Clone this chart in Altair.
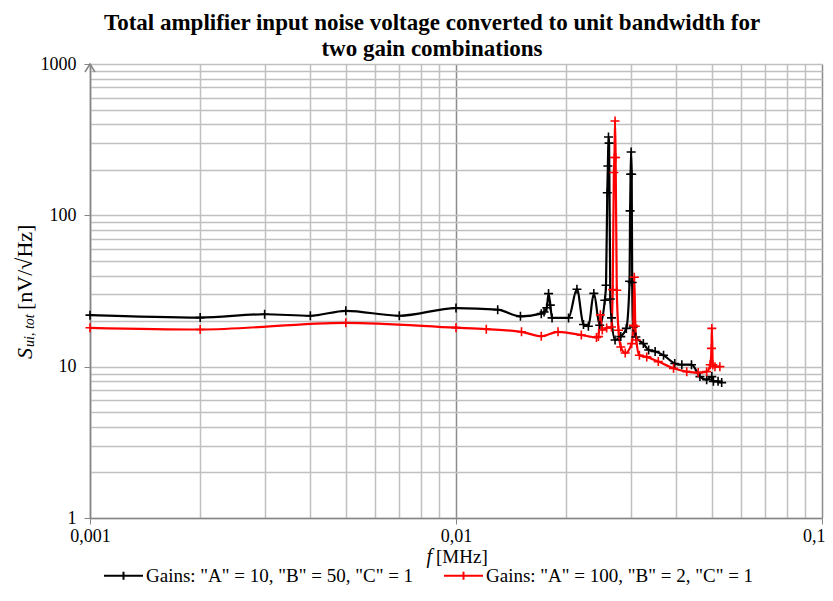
import altair as alt
import pandas as pd

black_label = 'Gains: "A" = 10, "B" = 50, "C" = 1'
red_label = 'Gains: "A" = 100, "B" = 2, "C" = 1'

black_f = [0.001, 0.002, 0.003, 0.004, 0.005, 0.007, 0.01, 0.013, 0.015,
           0.0171, 0.0174, 0.0177, 0.0179, 0.0181, 0.0183, 0.0203, 0.0214,
           0.0223, 0.023, 0.0238, 0.0247, 0.0255, 0.0257, 0.0259, 0.026,
           0.0261, 0.0262, 0.0264, 0.0266, 0.0272, 0.0282, 0.0292, 0.0298,
           0.0299, 0.03, 0.0301, 0.0302, 0.0303, 0.0305, 0.031, 0.0325,
           0.0336, 0.035, 0.0369, 0.0396, 0.0414, 0.044, 0.0464, 0.0484,
           0.05, 0.0505, 0.052, 0.0532]
black_v = [21.9, 21.1, 22.2, 21.7, 23.4, 21.7, 24.4, 23.8, 21.5,
           22.4, 23.0, 24.5, 30.4, 25.5, 21.0, 21.0, 32.5,
           19.0, 18.5, 30.5, 18.8, 27.5, 34.5, 141, 212,
           329, 300, 28, 21, 15.0, 15.8, 17.9, 36.7,
           107, 187, 262, 187, 36, 18.3, 15.7, 14.2,
           12.9, 12.6, 11.9, 10.5, 10.3, 10.3, 8.6, 8.2,
           8.6, 8.0, 8.0, 7.85]

red_f = [0.001, 0.002, 0.005, 0.01, 0.0121, 0.0151, 0.0171, 0.019, 0.022,
         0.0242, 0.0245, 0.0248, 0.0251, 0.0258, 0.0266, 0.0268, 0.027,
         0.0271, 0.0272, 0.0273, 0.0275, 0.0278, 0.0282, 0.029, 0.0302,
         0.0305, 0.0307, 0.0309, 0.0311, 0.0317, 0.0332, 0.0357, 0.0393,
         0.0427, 0.0459, 0.0484, 0.0495, 0.0499, 0.05, 0.0503, 0.051, 0.0526]
red_v = [18.06, 17.6, 19.5, 18.1, 17.7, 17.0, 15.9, 17.0, 16.2,
         15.6, 15.8, 22.0, 17.5, 18.0, 18.3, 32.3, 192,
         241, 420, 241, 32, 17.4, 13.5, 12.3, 14.2,
         18.8, 39, 18.5, 15.0, 11.9, 11.6, 10.8, 9.75,
         9.27, 9.14, 9.27, 10.3, 13.2, 17.9, 10.3, 10.0, 10.0]

x_ticks = [round(i * 10 ** k, 6) for k in (-3, -2) for i in range(1, 10)] + [0.1]
y_ticks = [i * 10 ** k for k in (0, 1, 2) for i in range(1, 10)] + [1000]

df = pd.concat([
    pd.DataFrame({"f": black_f, "v": black_v, "series": black_label}),
    pd.DataFrame({"f": red_f, "v": red_v, "series": red_label}),
], ignore_index=True)

FONT = "Liberation Serif"
decade = "abs(log(datum.value)/LN10 - round(log(datum.value)/LN10)) < 0.001"
is_last = "datum.value > 0.05"

cscale = alt.Scale(domain=[black_label, red_label], range=["#000000", "#ff0000"])
color = alt.Color(
    "series:N", scale=cscale,
    legend=alt.Legend(
        orient="none", legendX=13, legendY=491, direction="horizontal", title=None,
        symbolType="M-1,0L1,0M0,-0.2L0,0.2", symbolSize=1521, symbolStrokeWidth=2,
        labelFont=FONT, labelFontSize=19, labelColor="black", labelLimit=500,
        labelOffset=2, columnPadding=26, padding=0,
    ),
)

x_enc = alt.X(
    "f:Q",
    scale=alt.Scale(type="log", domain=[0.001, 0.1], nice=False),
    axis=alt.Axis(
        values=x_ticks, title=None,
        labelExpr=f"({decade}) ? replace(format(datum.value, '~g'), '.', ',') : ''",
        labelFont=FONT, labelFontSize=18, labelColor="black", labelPadding=3,
        labelFlush=False, labelOverlap=False,
        labelAlign={"condition": {"test": is_last, "value": "right"}, "value": "center"},
        labelOffset={"condition": {"test": is_last, "value": 3}, "value": 0},
        tickSize=6, tickColor="#868686",
        tickOpacity={"condition": {"test": decade, "value": 1}, "value": 0},
        gridColor={"condition": {"test": decade, "value": "#8c8c8c"}, "value": "#c0c0c0"},
        gridWidth=1.5, domainColor="#868686", domainWidth=1.5,
    ),
)
y_enc = alt.Y(
    "v:Q",
    scale=alt.Scale(type="log", domain=[1, 1000], nice=False),
    axis=alt.Axis(
        values=y_ticks, title=None,
        labelExpr=f"({decade}) ? format(datum.value, 'd') : ''",
        labelFont=FONT, labelFontSize=18, labelColor="black", labelPadding=8,
        labelFlush=False, labelOverlap=False,
        tickSize=6, tickColor="#868686",
        tickOpacity={"condition": {"test": decade, "value": 1}, "value": 0},
        gridColor="#c0c0c0", gridWidth=1.5, domainColor="#868686", domainWidth=1.5,
    ),
)

base = alt.Chart(df)
lines = base.mark_line(interpolate="monotone", strokeWidth=2.2).encode(x=x_enc, y=y_enc, color=color)
points = base.mark_point(
    shape="M-1,0L1,0M0,-1L0,1", size=81, filled=False, strokeWidth=1.6, opacity=1
).encode(x=x_enc, y=y_enc, color=alt.Color("series:N", scale=cscale, legend=None))

arrow = alt.Chart(pd.DataFrame({"a": [0]})).mark_point(
    shape="M-1,1.6L0,0L1,1.6", size=100, filled=False, strokeWidth=1.5, color="#868686", opacity=1
).encode(x=alt.value(0), y=alt.value(0))


def label(text, x, y, angle=0, align="left", style="normal", size=19):
    return alt.Chart(pd.DataFrame({"t": [text]})).mark_text(
        font=FONT, fontSize=size, fontStyle=style, color="black",
        align=align, baseline="middle", angle=angle,
    ).encode(text="t:N", x=alt.value(x), y=alt.value(y))


x_title_f = label("f", 342, 493, align="right", style="italic", size=20)
x_title_u = label("[MHz]", 346, 493, size=19)
y_title_s = label("S", -65, 295, angle=270, style="italic", size=22)
y_title_sub = label("ui, tot", -60, 283, angle=270, style="italic", size=14)
y_title_u = label("[nV/√Hz]", -65, 246, angle=270, size=22)

chart = alt.layer(
    lines, points, arrow, x_title_f, x_title_u, y_title_s, y_title_sub, y_title_u
).properties(
    width=732, height=454,
    autosize=alt.AutoSizeParams(type="none"),
    padding={"left": 82, "top": 56, "right": 3, "bottom": 69},
    title=alt.TitleParams(
        text=["Total amplifier input noise voltage converted to unit bandwidth for",
              "two gain combinations"],
        font=FONT, fontSize=23, fontWeight="bold", color="black",
        anchor="middle", dx=-24, offset=-6, lineHeight=26,
    ),
).configure_view(stroke=None).configure(background="white")

chart.save("out.html", embed_options={"renderer": "svg", "actions": False})
